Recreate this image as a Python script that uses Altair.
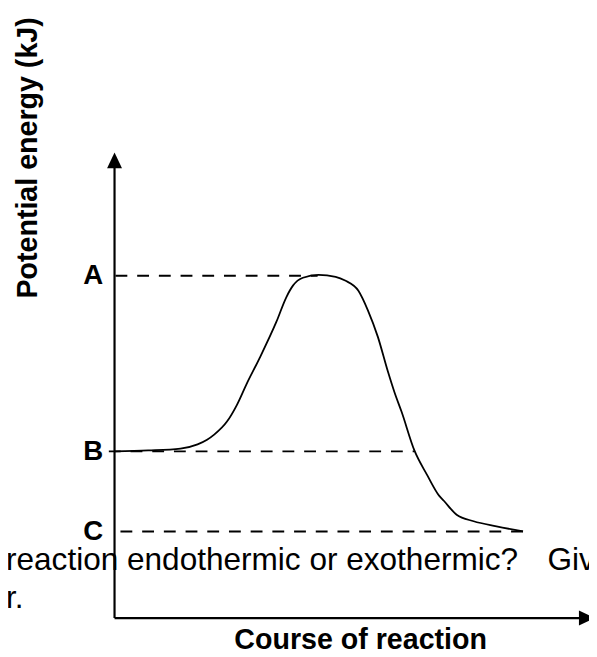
import altair as alt
import pandas as pd

# Reaction profile (course of reaction 0-100, potential energy 0-100, arbitrary units)
course = [0, 7.1, 13.9, 17.5, 19.5, 21.0, 23.7, 25.8, 27.8, 30.6, 34.1, 36.2, 37.6,
          39.7, 43.0, 46.6, 48.6, 51.4, 53.4, 55.5, 57.6, 59.0, 60.5, 63.2, 65.9,
          68.4, 69.4, 72.1, 75.7, 80.5, 86.1]
energy = [35.8, 36.0, 36.4, 37.3, 38.3, 39.4, 42.2, 45.8, 50.2, 55.9, 63.6, 68.9, 71.4,
          73.1, 73.7, 73.3, 72.5, 70.3, 66.1, 60.4, 53.0, 48.5, 44.3, 36.0, 30.7,
          26.3, 25.2, 22.2, 20.8, 19.7, 18.6]

# Energy levels marked on the energy axis
level_names = ["A", "B", "C"]
level_energy = [73.5, 35.8, 18.6]
level_start = [0.2, -1.2, 1.25]
level_end = [42.8, 63.2, 86.1]

# Texts
y_title = "Potential energy (kJ)"
x_title = "Course of reaction"
question_line1 = "reaction endothermic or exothermic?"
question_line1_tail = "Giv"
question_line2 = "r."

FONT = "Liberation Sans"
xs = alt.Scale(domain=[0, 100], nice=False, zero=False)
ys = alt.Scale(domain=[0, 100], nice=False, zero=False)

label_expr = " : ".join(
    [f"datum.value == {v} ? '{n}'" for n, v in zip(level_names, level_energy)]
) + " : ''"

x_axis = alt.Axis(
    domain=False, ticks=False, labels=False, grid=False,
    title=x_title, titleFont=FONT, titleFontSize=29, titleFontWeight="bold",
    titleColor="black", titleX=249, titleY=31, titleAlign="center",
    titleBaseline="alphabetic")
y_axis = alt.Axis(
    values=level_energy, labelExpr=label_expr, domain=False, ticks=False,
    tickSize=0, grid=False, labelFont=FONT, labelFontSize=28,
    labelFontWeight="bold", labelColor="black", labelPadding=12,
    labelBaseline="middle", labelOverlap=False,
    title=y_title, titleFont=FONT, titleFontSize=29, titleFontWeight="bold",
    titleColor="black", titleX=-79, titleY=5, titleAngle=270,
    titleAlign="center", titleBaseline="alphabetic")

curve_df = pd.DataFrame({"course": course, "energy": energy})
levels_df = pd.DataFrame({"name": level_names, "energy": level_energy,
                          "x0": level_start, "x1": level_end})
axes_df = pd.DataFrame({"x0": [0, 0], "x1": [0, 98.5], "y0": [0, 0], "y1": [97.5, 0]})

curve = alt.Chart(curve_df).mark_line(
    color="black", strokeWidth=1.8, interpolate="monotone"
).encode(
    x=alt.X("course:Q", scale=xs, axis=x_axis),
    y=alt.Y("energy:Q", scale=ys, axis=y_axis),
)

dashes = alt.Chart(levels_df).mark_rule(
    color="black", strokeWidth=2, strokeDash=[12, 10]
).encode(
    x=alt.X("x0:Q", scale=xs, axis=x_axis),
    x2="x1:Q",
    y=alt.Y("energy:Q", scale=ys, axis=y_axis),
)

axes = alt.Chart(axes_df).mark_rule(color="black", strokeWidth=2.2).encode(
    x=alt.X("x0:Q", scale=xs, axis=x_axis),
    x2="x1:Q",
    y=alt.Y("y0:Q", scale=ys, axis=y_axis),
    y2="y1:Q",
)

arrow_up = alt.Chart(pd.DataFrame({"x": [0], "y": [100]})).mark_point(
    shape="M0,0 L0.9,1.9 L-0.9,1.9 Z", size=282, filled=True,
    color="black", opacity=1, strokeWidth=0
).encode(x=alt.X("x:Q", scale=xs, axis=x_axis), y=alt.Y("y:Q", scale=ys, axis=y_axis))

arrow_right = alt.Chart(pd.DataFrame({"x": [101.2], "y": [0]})).mark_point(
    shape="M0,0 L-1.9,-0.9 L-1.9,0.9 Z", size=282, filled=True,
    color="black", opacity=1, strokeWidth=0
).encode(x=alt.X("x:Q", scale=xs, axis=x_axis), y=alt.Y("y:Q", scale=ys, axis=y_axis))

q1 = alt.Chart(pd.DataFrame({"t": [question_line1]})).mark_text(
    align="left", baseline="alphabetic", font=FONT, fontSize=32, color="black"
).encode(x=alt.value(-110), y=alt.value(423), text="t:N")

q1b = alt.Chart(pd.DataFrame({"t": [question_line1_tail]})).mark_text(
    align="left", baseline="alphabetic", font=FONT, fontSize=32, color="black"
).encode(x=alt.value(439), y=alt.value(423), text="t:N")

q2 = alt.Chart(pd.DataFrame({"t": [question_line2]})).mark_text(
    align="left", baseline="alphabetic", font=FONT, fontSize=32, color="black"
).encode(x=alt.value(-110), y=alt.value(462), text="t:N")

chart = alt.layer(curve, dashes, axes, arrow_up, arrow_right, q1, q1b, q2).properties(
    width=481, height=472,
    padding={"left": 108, "top": 142, "right": 0, "bottom": 35},
    autosize=alt.AutoSizeParams(type="none"),
    background="white",
).configure_view(stroke=None)

chart.save("out.html", embed_options={"renderer": "svg", "actions": False})
